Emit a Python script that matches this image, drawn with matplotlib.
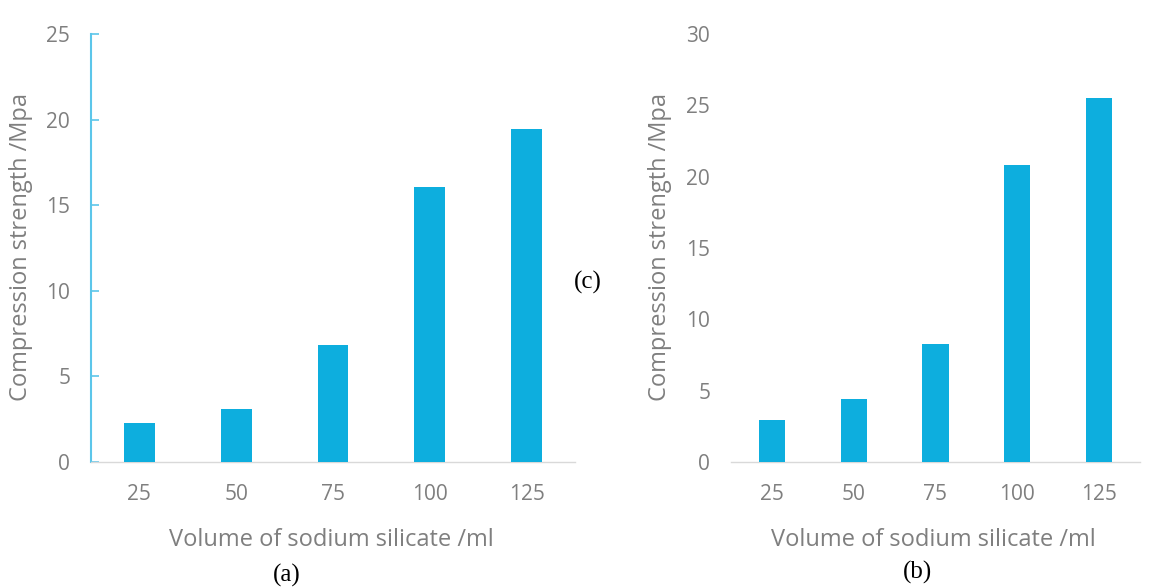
import matplotlib
matplotlib.use("Agg")
import matplotlib.pyplot as plt
import numpy as np

# Compression strength vs. volume of sodium silicate, two sample sets
volumes = ["25", "50", "75", "100", "125"]
strength_a = [2.3, 3.1, 6.85, 16.05, 19.45]
strength_b = [2.95, 4.45, 8.25, 20.85, 25.5]
yticks_a = [0, 5, 10, 15, 20, 25]
yticks_b = [0, 5, 10, 15, 20, 25, 30]

BAR = "#0DAEDE"
TEXT = "#7F7F7F"
SPINE_BLUE = "#5CC6EA"
BASE = "#D9D9D9"

plt.rcParams["font.family"] = ["Open Sans", "DejaVu Sans"]

fig = plt.figure(figsize=(11.66, 5.88), dpi=100)
fig.patch.set_facecolor("white")

bottom = 1 - 462 / 588
top = 1 - 34 / 588
ax_a = fig.add_axes([91 / 1166, bottom, (575 - 91) / 1166, top - bottom])
ax_b = fig.add_axes([731 / 1166, bottom, (1140 - 731) / 1166, top - bottom])


def style(ax, values, yticks, show_yspine, ylabel_x):
    x = np.arange(len(volumes))
    ax.bar(x, values, width=0.32, color=BAR, zorder=3)
    ax.set_xlim(-0.5, len(volumes) - 0.5)
    ax.set_ylim(yticks[0], yticks[-1])
    ax.set_yticks(yticks)
    ax.set_xticks(x)
    ax.set_xticklabels(volumes)
    for s in ("top", "right"):
        ax.spines[s].set_visible(False)
    ax.spines["bottom"].set_color(BASE)
    ax.spines["bottom"].set_linewidth(1.0)
    if show_yspine:
        ax.spines["left"].set_color(SPINE_BLUE)
        ax.spines["left"].set_linewidth(1.5)
        ax.tick_params(axis="y", direction="in", length=5.8, width=1.2,
                       color=SPINE_BLUE, pad=15)
    else:
        ax.spines["left"].set_visible(False)
        ax.tick_params(axis="y", length=0, pad=15)
    ax.tick_params(axis="x", length=0, pad=16)
    ax.tick_params(labelsize=15, labelcolor=TEXT)
    ax.set_xlabel("Volume of sodium silicate /ml", fontsize=17, color=TEXT,
                  va="center")
    ax.xaxis.set_label_coords(0.496, -0.182)
    ax.set_ylabel("Compression strength /Mpa", fontsize=17, color=TEXT,
                  va="center")
    ax.yaxis.set_label_coords(ylabel_x, 0.502)


style(ax_a, strength_a, yticks_a, True, -0.145)
style(ax_b, strength_b, yticks_b, False, -0.174)

serif = ["Liberation Serif", "DejaVu Serif"]
fig.text(287 / 1166, 1 - 575 / 588, "(a)", family=serif, fontsize=18,
         ha="center", va="center", color="black")
fig.text(918 / 1166, 1 - 572 / 588, "(b)", family=serif, fontsize=18,
         ha="center", va="center", color="black")
fig.text(588 / 1166, 1 - 282 / 588, "(c)", family=serif, fontsize=18,
         ha="center", va="center", color="black")

fig.savefig("out.png", dpi=100, facecolor="white")
